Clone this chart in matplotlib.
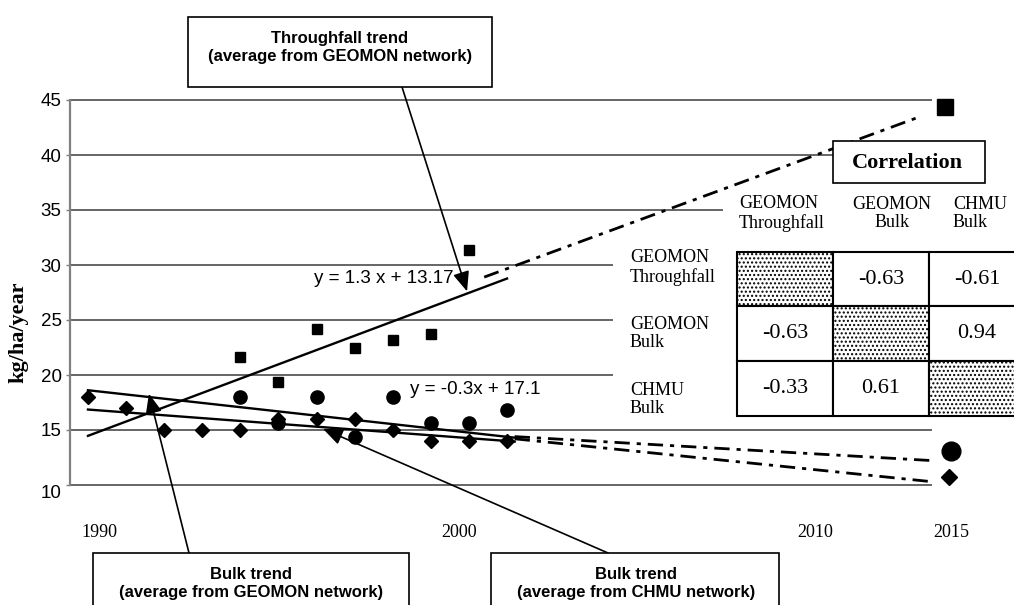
import numpy as np
import matplotlib.pyplot as plt
from matplotlib.patches import Rectangle
from matplotlib.transforms import Affine2D

plt.rcParams['font.family'] = 'Liberation Sans'
serif = 'Liberation Serif'

W, H = 1014, 605

# ---- data (x = year index, 1990 -> 1) ----
years        = np.arange(1990, 2002)
chmu_bulk    = [18, 17, 15, 15, 15, 16, 16, 16, 15, 14, 14, 14]
geomon_years = np.arange(1994, 2002)
geomon_bulk  = [18.0, 15.6, 18.0, 14.4, 18.0, 15.6, 15.6, 16.8]
thr_years    = np.arange(1994, 2001)
geomon_thr   = [21.6, 19.4, 24.2, 22.5, 23.2, 23.7, 31.4]

# trend lines (slope, intercept)
thr_trend    = (1.3, 13.17)
geomon_trend = (-0.385, 19.0)
chmu_trend   = (-0.26, 17.12)

# projections to 2015 (dash-dot segments and end markers)
thr_ext      = ([11.4, 22.85], [28.9, 43.5])
geomon_ext   = ([12.2, 23.25], [14.4, 12.2])
chmu_ext     = ([12.2, 23.15], [14.2, 10.3])
proj_thr, proj_geomon, proj_chmu = 44.4, 13.1, 10.7
proj_pos     = 23.5

xtick_pos    = [1.31, 10.74, 20.08, 23.65]
xtick_lab    = ['1990', '2000', '2010', '2015']
ytick_vals   = np.arange(10, 46, 5)

corr_names   = ['GEOMON\nThroughfall', 'GEOMON\nBulk', 'CHMU\nBulk']
corr_vals    = [[None, -0.63, -0.61],
                [-0.63, None, 0.94],
                [-0.33, 0.61, None]]

def idx(y):
    return np.asarray(y) - 1989

fig = plt.figure(figsize=(W/100, H/100), dpi=100)
pix = Affine2D().scale(1.0/W, -1.0/H).translate(0, 1) + fig.transFigure

ax = fig.add_axes([70/W, 1-485/H, 895/W, 385/H])
ax.set_xlim(0.528, 24.02)
ax.set_ylim(10, 45)
for s in ['top', 'right', 'bottom']:
    ax.spines[s].set_visible(False)
ax.spines['left'].set_color('#808080')
ax.spines['left'].set_linewidth(1.6)

ax.hlines(ytick_vals, 0.528, 23.15, color='#3c3c3c', lw=1.1, zorder=1, clip_on=False)

# white areas behind the correlation labels
ax.add_patch(Rectangle((723, 186), 300, 56, transform=pix, facecolor='white',
                       edgecolor='none', zorder=2))
ax.add_patch(Rectangle((613, 242), 410, 179, transform=pix, facecolor='white',
                       edgecolor='none', zorder=2))

# trend lines
xt = np.array([1, 12])
ax.plot(xt, thr_trend[0]*xt + thr_trend[1], 'k', lw=1.7, zorder=3)
xb = np.array([1, 12.2])
ax.plot(xb, geomon_trend[0]*xb + geomon_trend[1], 'k', lw=1.7, zorder=3)
ax.plot(xb, chmu_trend[0]*xb + chmu_trend[1], 'k', lw=1.7, zorder=3)

dd = (0, (5.5, 2.5, 1.5, 2.5))
for ext in [thr_ext, geomon_ext, chmu_ext]:
    ax.plot(ext[0], ext[1], color='k', lw=2.0, ls=dd, zorder=3)

# points
ax.plot(idx(thr_years), geomon_thr, 's', color='k', ms=6.5, zorder=4)
ax.plot(idx(geomon_years), geomon_bulk, 'o', color='k', ms=9.5, zorder=4)
ax.plot(idx(years), chmu_bulk, 'D', color='k', ms=7.5, zorder=4)
ax.plot(proj_pos, proj_thr, 's', color='k', ms=12, zorder=4, clip_on=False)
ax.plot(proj_pos + 0.15, proj_geomon, 'o', color='k', ms=13.5, zorder=4, clip_on=False)
ax.plot(proj_pos + 0.1, proj_chmu, 'D', color='k', ms=7.8, zorder=4, clip_on=False)

ax.text(6.93, 28.75, 'y = 1.3 x + 13.17', fontsize=13.5, ha='left', va='center', zorder=5)
ax.text(9.45, 18.65, 'y = -0.3x + 17.1', fontsize=13.5, ha='left', va='center', zorder=5)

# ticks
ax.set_xticks(xtick_pos, xtick_lab, fontfamily=serif, fontsize=13)
ax.tick_params(axis='x', length=0, pad=28)
ax.set_yticks(ytick_vals, [str(v) for v in ytick_vals])
ax.tick_params(axis='y', direction='out', length=3, width=1, color='#808080',
               pad=3, labelsize=13.5)
ax.get_yticklabels()[0].set_verticalalignment('top')

fig.text(18, 332, 'kg/ha/year', transform=pix, rotation=90, fontfamily=serif,
         fontweight='bold', fontsize=16, ha='center', va='center')

# annotation boxes + arrows
arrow = dict(arrowstyle='-|>,head_length=0.6,head_width=0.25', mutation_scale=20,
             color='black', lw=1.2, shrinkA=0, shrinkB=0)
ax.annotate('', xy=(10.95, 27.6), xytext=(402, 87), textcoords=pix,
            arrowprops=arrow, zorder=5)
ax.annotate('', xy=(2.6, 18.3), xytext=(189, 553), textcoords=pix,
            arrowprops=arrow, zorder=5, annotation_clip=False)
ax.annotate('', xy=(7.17, 15.1), xytext=(608, 553), textcoords=pix,
            arrowprops=arrow, zorder=5, annotation_clip=False)

boxes = [((188, 17, 304, 70), (340, 47.5), 'Throughfall trend\n(average from GEOMON network)'),
         ((93, 553, 316, 70), (251, 583.5), 'Bulk trend\n(average from GEOMON network)'),
         ((491, 553, 288, 70), (636, 583.5), 'Bulk trend\n(average from CHMU network)')]
for (bx, by, bw, bh), (tx, ty), txt in boxes:
    fig.add_artist(Rectangle((bx, by), bw, bh, transform=pix, facecolor='white',
                             edgecolor='black', lw=1.2))
    fig.text(tx, ty, txt, transform=pix, ha='center', va='center', fontsize=12,
             fontweight='bold', linespacing=1.25)

# correlation table
fig.add_artist(Rectangle((833, 141), 152, 42, transform=pix, facecolor='white',
                         edgecolor='black', lw=1.2))
fig.text(907, 163, 'Correlation', transform=pix, ha='center', va='center',
         fontfamily=serif, fontweight='bold', fontsize=16)

fig.text(739, 213.5, corr_names[0], transform=pix, ha='left', va='center',
         fontfamily=serif, fontsize=13, linespacing=1.15)
fig.text(892, 213.5, corr_names[1], transform=pix, ha='center', va='center',
         fontfamily=serif, fontsize=13, linespacing=1.15)
fig.text(953, 213.5, corr_names[2], transform=pix, ha='left', va='center',
         fontfamily=serif, fontsize=13, linespacing=1.15)
row_y = [267.5, 333.5, 399.5]
for name, ry in zip(corr_names, row_y):
    fig.text(630, ry, name, transform=pix, ha='left', va='center',
             fontfamily=serif, fontsize=13, linespacing=1.15)

col_x = [737, 833, 929, 1025]
row_e = [252, 306, 361, 416]
for r in range(3):
    for c in range(3):
        x0, y0 = col_x[c], row_e[r]
        w, h = col_x[c+1] - x0, row_e[r+1] - y0
        v = corr_vals[r][c]
        fig.add_artist(Rectangle((x0, y0), w, h, transform=pix, facecolor='white',
                                 edgecolor='black', lw=1.5,
                                 hatch='....' if v is None else None))
        if v is not None:
            fig.text(x0 + w/2, y0 + h/2, '%.2f' % v, transform=pix, ha='center',
                     va='center', fontfamily=serif, fontsize=16)

plt.savefig('out.png', dpi=100)
